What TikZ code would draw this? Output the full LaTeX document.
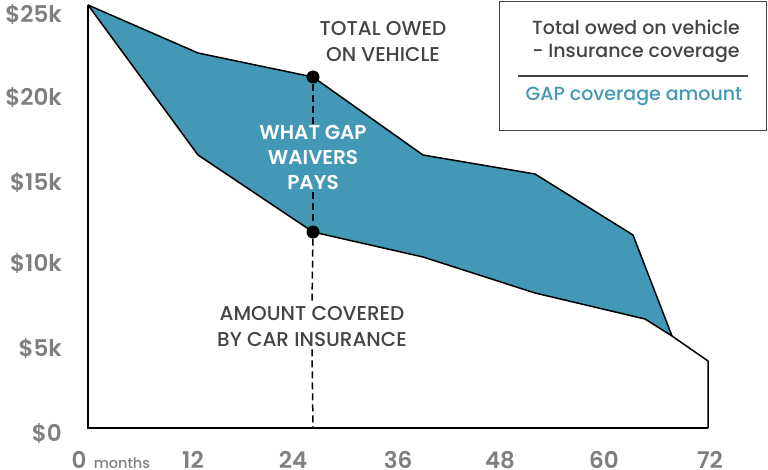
\documentclass[tikz,border=0pt]{standalone}
\usepackage{fontspec}
\setmainfont{Poppins}[UprightFont={* Medium}, BoldFont={* SemiBold}]
\usetikzlibrary{positioning}
\definecolor{gapteal}{HTML}{4398B5}
\definecolor{axisgray}{HTML}{7F7F7F}
\definecolor{notegray}{HTML}{444444}
\tikzset{
    ylab/.style={anchor=east, text=axisgray, inner sep=0pt, font=\fontsize{23}{23}\selectfont\bfseries},
    xlab/.style={text=axisgray, inner sep=0pt, font=\fontsize{23}{23}\selectfont\bfseries},
    months/.style={text=axisgray, inner sep=0pt, font=\fontsize{14.5}{14.5}\selectfont},
    note/.style={text=notegray, align=center, inner sep=2pt, font=\fontsize{20}{26}\selectfont},
    gapnote/.style={text=white, align=center, inner sep=2pt, font=\fontsize{20}{25}\selectfont\bfseries},
    legtext/.style={text=notegray, align=center, inner sep=0pt, font=\fontsize{19}{23}\selectfont},
    legendbox/.style={draw=notegray, line width=1.2pt, minimum width=267pt, minimum height=129pt},
    dot/.style={circle, fill=black, minimum size=13pt, inner sep=0pt},
    curve/.style={draw=black, line width=1.5pt, line join=round},
    guide/.style={draw=black, line width=1.5pt, dash pattern=on 7pt off 4pt}
}

\begin{document}
\begin{tikzpicture}[x=1pt, y=-1pt]
    \useasboundingbox (0,0) rectangle (768,470);
    \coordinate (start) at (88,5);
    \coordinate (origin) at (88,428);
    \coordinate (end) at (708,428);
    \coordinate (foot) at (313,428);
    \fill[gapteal] (start) -- (198,53) -- (313,77) -- (423,155) -- (535,174) -- (633,235) -- (672,336)
        -- (645,319) -- (535,293) -- (423,257) -- (313,232) -- (198,155) -- cycle;
    \draw[curve] (start) -- (198,53) -- (313,77) -- (423,155) -- (535,174) -- (633,235) -- (672,336);
    \draw[curve] (start) -- (198,155) -- (313,232) -- (423,257) -- (535,293) -- (645,319) -- (672,336)
        -- (708,361) -- (end);
    \draw[line width=1.5pt] (start) -- (origin) -- (end);

    \node[note] (owedlab) at (383,42) {TOTAL OWED\\ON VEHICLE};
    \node[gapnote] (gaplab) at (313,158) {WHAT GAP\\WAIVERS\\PAYS};
    \node[note] (inslab) at (312,327) {AMOUNT COVERED\\BY CAR INSURANCE};
    \node[dot] (owed) at (313,77) {};
    \node[dot] (covered) at (313,232) {};
    \draw[guide] (owed) -- (gaplab.north);
    \draw[guide] (gaplab.south) -- (covered);
    \draw[guide] (covered) -- (inslab.north);
    \draw[guide] (inslab.south) -- (foot);

    \foreach \v/\y in {25/14, 20/97, 15/182, 10/263, 5/348}
        \node[ylab] (y\v) at (62,\y) {\$\v k};
    \node[ylab] (y0) at (62,433) {\$0};
    \node[xlab] (x0) at (79,460) {0};
    \node[months, anchor=base west] (mlab) at ([xshift=7pt]x0.base east) {months};
    \foreach \m/\x in {12/193, 24/293, 36/398, 48/500, 60/604, 72/710}
        \node[xlab] (x\m) at (\x,460) {\m};

    \node[legendbox] (legend) at (633,66) {};
    \node[legtext] (owedkey) at (636,41) {Total owed on vehicle\\- Insurance coverage};
    \draw[notegray, line width=1.2pt] (518,76) -- (748,76);
    \node[legtext, text=gapteal] (gapkey) at (634,96) {GAP coverage amount};
\end{tikzpicture}
\end{document}
